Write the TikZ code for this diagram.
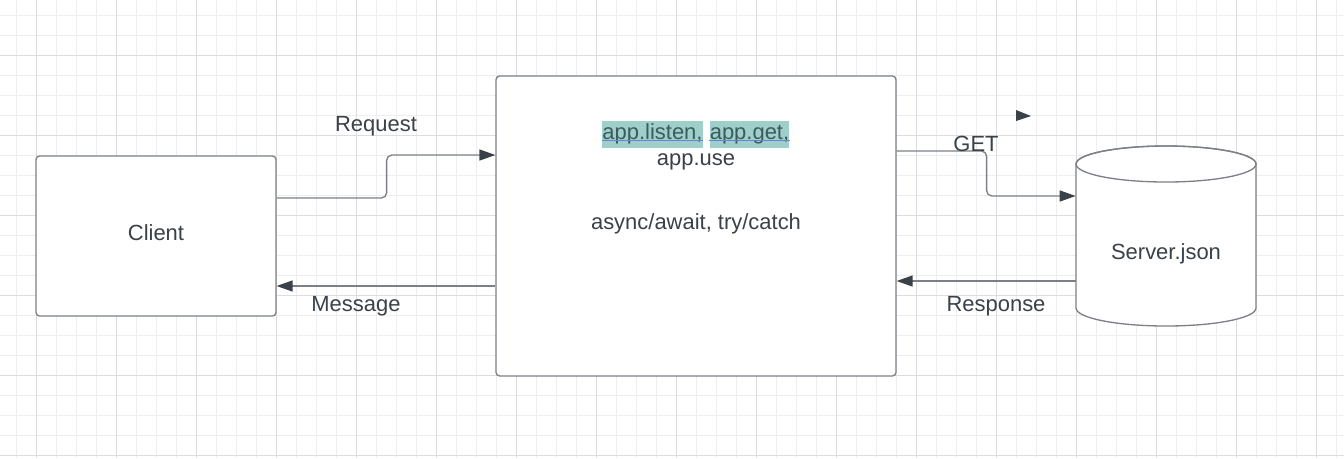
\documentclass[tikz,border=0pt]{standalone}
\usepackage{fontspec}
\setmainfont{Liberation Sans}
\usetikzlibrary{positioning}
\usetikzlibrary{arrows.meta}
\usetikzlibrary{calc}
\definecolor{inkgray}{HTML}{3B4149}
\definecolor{linegray}{HTML}{7C8086}
\definecolor{gridminor}{HTML}{EEEEEE}
\definecolor{gridmajor}{HTML}{DDDDDD}
\definecolor{hlteal}{HTML}{9FCFC9}
\definecolor{hltext}{HTML}{3A5C5E}
\definecolor{ulblue}{HTML}{6F80DC}
\tikzstyle{box}=[rectangle,draw=linegray,line width=0.75pt,rounded corners=2pt,fill=white,inner sep=0pt,text=inkgray]
\tikzstyle{flow}=[draw=linegray,line width=0.75pt,rounded corners=3pt,-{Triangle[length=0.32cm,width=0.22cm,color=inkgray]}]
\tikzstyle{lbl}=[text=inkgray,inner sep=0pt]
\tikzstyle{hl}=[fill=hlteal,text=hltext,inner xsep=0pt,inner ysep=0pt,minimum height=0.54cm,text height=0.72em,text depth=0.2em]
\tikzstyle{gridline}=[draw=gridminor,line width=0.55pt]
\tikzstyle{gridbold}=[draw=gridmajor,line width=0.55pt]

\begin{document}
\begin{tikzpicture}[x=0.02cm,y=-0.02cm,font=\fontsize{12.5}{15}\selectfont]
    \useasboundingbox (0,0) rectangle (1344,458);
    \fill[white] (0,0) rectangle (1344,458);
    % background grid
    \foreach \gx in {16.5,36.5,...,1344}
        \path[gridline] (\gx,0) -- (\gx,458);
    \foreach \gy in {15.5,35.5,...,458}
        \path[gridline] (0,\gy) -- (1344,\gy);
    \foreach \gx in {36.5,116.5,...,1344}
        \path[gridbold] (\gx,0) -- (\gx,458);
    \foreach \gy in {55.5,135.5,...,458}
        \path[gridbold] (0,\gy) -- (1344,\gy);

    \node[box,minimum width=4.8cm,minimum height=3.2cm] (client) at (156,236) {};
    \node[lbl] (clienttxt) at (156,233) {Client};
    \node[box,minimum width=8cm,minimum height=6cm] (app) at (696,226) {};
    \node[hl] (listen) at (652.5,134.5) {app.listen,};
    \node[hl] (appget) at (749.5,134.5) {app.get,};
    \foreach \nm in {listen,appget}
        \draw[ulblue,line width=0.6pt] ($(\nm.base west)+(0,1.5)$) -- ($(\nm.base east)+(0,1.5)$);
    \node[lbl] (use) at (696,161.5) {app.use};
    \node[lbl] (async) at (696,223.5) {async/await, try/catch};

    % database cylinder
    \node[minimum width=3.6cm,minimum height=3.6cm,inner sep=0pt] (srv) at (1166,236) {};
    \filldraw[fill=white,draw=linegray,line width=0.75pt] (1076,164) -- (1076,308)
        arc[start angle=180,end angle=0,x radius=90,y radius=18] -- (1256,164)
        arc[start angle=0,end angle=-180,x radius=90,y radius=18];
    \draw[linegray,line width=0.75pt] (1166,164) ellipse[x radius=90,y radius=18];
    \node[lbl] (srvtxt) at (1166,254) {Server.json};

    \path[flow] ($(client.east)+(0,-38)$) -- ++(110,0) |- ($(app.west)+(0,-71)$);
    \path[flow] ($(app.west)+(0,60)$) -- ($(client.east)+(0,50)$);
    \path[flow] ($(app.east)+(0,-75)$) -- ++(90,0) |- ($(srv.west)+(0,-40)$);
    \path[flow] ($(srv.west)+(0,45)$) -- ($(app.east)+(0,55)$);
    \fill[inkgray] (1016,110) -- (1031,116) -- (1016,121) -- cycle;

    \foreach \pos/\name/\label in {{(376,126)/reqlbl/Request}, {(356,306)/msglbl/Message}, {(976,144)/getlbl/GET}, {(996,306)/reslbl/Response}}
        \node[lbl] (\name) at \pos {\label};
\end{tikzpicture}
\end{document}
